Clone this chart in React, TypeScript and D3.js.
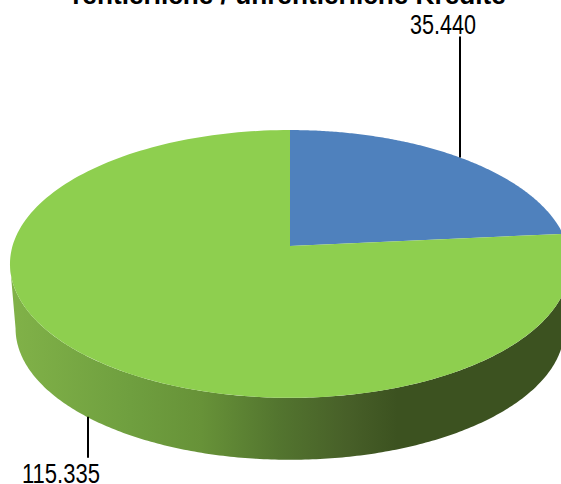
import React from "react";
import * as d3 from "d3";

const title = "rentierliche / unrentierliche Kredite";
const categories = ["rentierlich", "unrentierlich"];
const values = [35440, 115335];
const valueLabels = ["35.440", "115.335"];
const topColors = ["#4f81bd", "#8ecf4f"];

const W = 561, H = 484;
const cx = 290, apexY = 246, a = 277.5, b = 131.5, k = 0.134;
const depthY = 65, depthScale = 0.98;

function project(theta: number, s = 1, dy = 0): [number, number] {
  const u = Math.sin(theta), v = Math.cos(theta);
  const w = 1 + k * v;
  return [cx + (s * a * u) / w, apexY + dy + (-s * b * v) / w];
}

const slices = d3.pie<number>().sort(null)(values);
const line = d3.line();

function wedge(start: number, end: number) {
  const n = 180;
  const angles = d3.range(n + 1).map((i) => start + ((end - start) * i) / n);
  return line([[cx, apexY], ...angles.map((t) => project(t))])! + "Z";
}

const leftTan = Math.PI * 1.5 - Math.asin(k);
const rightTan = Math.PI * 0.5 + Math.asin(k);
const sideAngles = d3.range(241).map((i) => rightTan + ((leftTan - rightTan) * i) / 240);
const sidePath =
  line([
    ...sideAngles.map((t) => project(t)),
    ...sideAngles.slice().reverse().map((t) => project(t, depthScale, depthY)),
  ])! + "Z";

const sideStops: [number, string][] = [
  [0, "#80b148"],
  [0.21, "#6f9f3f"],
  [0.34, "#679238"],
  [0.48, "#53752f"],
  [0.61, "#475f28"],
  [0.7, "#3c5220"],
  [1, "#3c5220"],
];

export default function App() {
  return (
    <svg
      width={W}
      height={H}
      viewBox={`0 0 ${W} ${H}`}
      style={{ position: "absolute", left: 0, top: 0, background: "#fff" }}
    >
      <defs>
        <linearGradient id="side" gradientUnits="userSpaceOnUse" x1={16} x2={561} y1={0} y2={0}>
          {sideStops.map(([o, c]) => (
            <stop key={o} offset={o} stopColor={c} />
          ))}
        </linearGradient>
      </defs>
      <text
        x={289}
        y={4}
        textAnchor="middle"
        fontFamily="'Liberation Sans', Arial, sans-serif"
        fontWeight="bold"
        fontSize={26.2}
        fill="#000"
      >
        {title}
      </text>
      <path d={sidePath} fill="url(#side)" />
      {slices.map((s, i) => (
        <path key={categories[i]} d={wedge(s.startAngle, s.endAngle)} fill={topColors[i]} />
      ))}
      {slices.map((s, i) => {
        const mid = (s.startAngle + s.endAngle) / 2;
        const front = Math.cos(mid) < 0;
        const [x, y] = front ? project(mid, depthScale, depthY) : project(mid);
        const lx = Math.round(x) + (front ? 1 : 0);
        const y2 = front ? y + 41 : y - 121;
        return (
          <g key={categories[i]}>
            <line x1={lx} x2={lx} y1={y} y2={y2} stroke="#000" strokeWidth={2} />
            <text
              x={front ? lx - 27 : lx - 17}
              y={front ? y2 + 25 : y2 - 3}
              textAnchor="middle"
              textLength={front ? 78 : 66}
              lengthAdjust="spacingAndGlyphs"
              fontFamily="'Liberation Sans', sans-serif"
              fontSize={27.5}
              fill="#000"
            >
              {valueLabels[i]}
            </text>
          </g>
        );
      })}
    </svg>
  );
}
